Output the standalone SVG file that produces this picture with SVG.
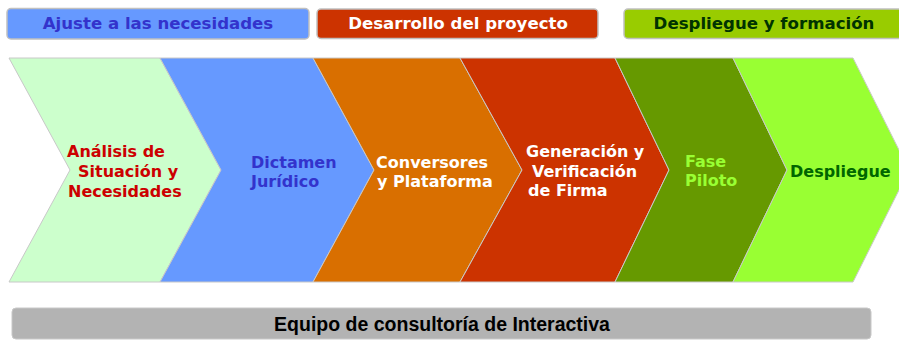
<svg xmlns="http://www.w3.org/2000/svg" width="899" height="340" viewBox="0 0 899 340">
<style>
.hdr{stroke:#c0c0c0;stroke-width:1.5}
.chev{stroke:#c8c8c8;stroke-width:1}
.t{font-family:"DejaVu Sans",Verdana,sans-serif;font-weight:bold}
.h{font-size:16.6px;text-anchor:middle}
.c{font-size:16px}
.b{font-family:"Liberation Sans",Arial,sans-serif;font-weight:bold;font-size:19.5px;text-anchor:middle;fill:#000}
</style>
<rect width="899" height="340" fill="#ffffff"/>
<g id="header-ajuste">
<rect class="hdr" x="7" y="8.5" width="302" height="30.5" rx="4" fill="#6699ff"/>
<text class="t h" x="158" y="29" fill="#3333cc">Ajuste a las necesidades</text>
</g>
<g id="header-desarrollo">
<rect class="hdr" x="317" y="9" width="281" height="29.5" rx="4" fill="#cc3300"/>
<text class="t h" x="458" y="29" fill="#ffffff">Desarrollo del proyecto</text>
</g>
<g id="header-despliegue">
<rect class="hdr" x="624" y="9" width="280" height="29.5" rx="4" fill="#99cc00"/>
<text class="t h" x="764" y="29" fill="#003300">Despliegue y formación</text>
</g>
<g id="stage-analisis">
<polygon class="chev" points="9,58 160,58 221,170 160,282 9,282 70,170" fill="#ccffcc"/>
<text class="t c" fill="#cc0000"><tspan x="67" y="157">Análisis de</tspan><tspan x="78" y="177">Situación y</tspan><tspan x="68" y="197">Necesidades</tspan></text>
</g>
<g id="stage-dictamen">
<polygon class="chev" points="160,58 313,58 374,170 313,282 160,282 221,170" fill="#6699ff"/>
<text class="t c" fill="#3333cc"><tspan x="251" y="168">Dictamen</tspan><tspan x="251" y="187">Jurídico</tspan></text>
</g>
<g id="stage-conversores">
<polygon class="chev" points="313,58 460,58 522,170 460,282 313,282 374,170" fill="#d96f00"/>
<text class="t c" fill="#ffffff"><tspan x="376" y="168">Conversores</tspan><tspan x="377" y="187">y Plataforma</tspan></text>
</g>
<g id="stage-generacion">
<polygon class="chev" points="460,58 615,58 669,170 615,282 460,282 522,170" fill="#cc3300"/>
<text class="t c" fill="#ffffff"><tspan x="526" y="157">Generación y</tspan><tspan x="532" y="177">Verificación</tspan><tspan x="528" y="196">de Firma</tspan></text>
</g>
<g id="stage-piloto">
<polygon class="chev" points="615,58 733,58 787,170 733,282 615,282 669,170" fill="#669900"/>
<text class="t c" fill="#99ff33"><tspan x="685" y="167">Fase</tspan><tspan x="685" y="186">Piloto</tspan></text>
</g>
<g id="stage-despliegue">
<polygon class="chev" points="733,58 853,58 909,170 853,282 733,282 787,170" fill="#99ff33"/>
<text class="t c" x="790" y="177" fill="#006600">Despliegue</text>
</g>
<g id="team-bar">
<rect x="12" y="308" width="859" height="31" rx="4" fill="#b3b3b3" stroke="#c8c8c8" stroke-width="1"/>
<text class="b" x="442" y="331">Equipo de consultoría de Interactiva</text>
</g>
<g id="connectors"></g>
</svg>
